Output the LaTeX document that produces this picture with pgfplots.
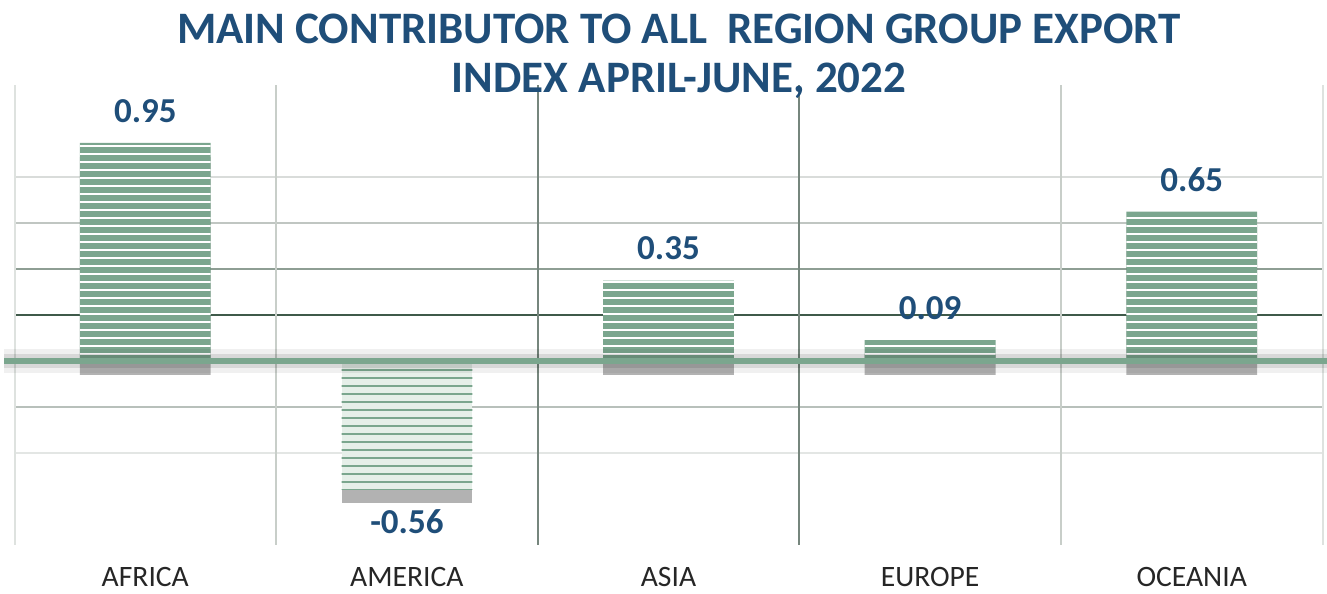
\documentclass[border=0pt]{standalone}
\usepackage{fontspec}
\setmainfont{Carlito}
\usepackage{pgfplots}
\pgfplotsset{compat=1.18}
\usetikzlibrary{patterns.meta,shadows}

\definecolor{barGreen}{HTML}{7BA68E}
\definecolor{barLight}{HTML}{E6EFE9}
\definecolor{titleBlue}{HTML}{1F4E79}
\definecolor{tickText}{HTML}{262626}
\definecolor{gA}{HTML}{D9DCDA}
\definecolor{gB}{HTML}{C0C6C2}
\definecolor{gC}{HTML}{8E9E94}
\definecolor{gD}{HTML}{3F5A4A}
\definecolor{gE}{HTML}{B8C0BB}
\definecolor{gF}{HTML}{E3E6E4}
\definecolor{vLight}{HTML}{DEE2DF}
\definecolor{vMid}{HTML}{C8CEC9}
\definecolor{vDark}{HTML}{76867D}

\begin{document}
\begin{tikzpicture}
\begin{axis}[
  scale only axis,
  width=654bp, height=229.5bp,
  xmin=-0.5, xmax=4.5, ymin=-0.8, ymax=1.2,
  axis line style={draw=none},
  tick style={draw=none},
  ytick=\empty,
  xtick={0,...,4},
  xticklabels={AFRICA,AMERICA,ASIA,EUROPE,OCEANIA},
  xticklabel style={font=\fontsize{14.8bp}{17bp}\selectfont, text=tickText, yshift=-8bp},
  clip=false,
  no markers,
]
% horizontal grid lines
\addplot[forget plot, gA, line width=1bp] coordinates {(-0.5,0.8) (4.5,0.8)};
\addplot[forget plot, gB, line width=1bp] coordinates {(-0.5,0.6) (4.5,0.6)};
\addplot[forget plot, gC, line width=1bp] coordinates {(-0.5,0.4) (4.5,0.4)};
\addplot[forget plot, gD, line width=1bp] coordinates {(-0.5,0.2) (4.5,0.2)};
\addplot[forget plot, gE, line width=1bp] coordinates {(-0.5,-0.2) (4.5,-0.2)};
\addplot[forget plot, gF, line width=1bp] coordinates {(-0.5,-0.4) (4.5,-0.4)};
% vertical separators
\addplot[forget plot, vLight, line width=1bp] coordinates {(-0.5,-0.8) (-0.5,1.2)};
\addplot[forget plot, vMid, line width=1bp] coordinates {(0.5,-0.8) (0.5,1.2)};
\addplot[forget plot, vDark, line width=1bp] coordinates {(1.5,-0.8) (1.5,1.2)};
\addplot[forget plot, vDark, line width=1bp] coordinates {(2.5,-0.8) (2.5,1.2)};
\addplot[forget plot, vMid, line width=1bp] coordinates {(3.5,-0.8) (3.5,1.2)};
\addplot[forget plot, vLight, line width=1bp] coordinates {(4.5,-0.8) (4.5,1.2)};
% positive bars
\addplot[ybar, bar shift=0pt, bar width=0.5, draw=none, fill=barGreen,
  drop shadow={shadow xshift=0bp, shadow yshift=-7bp, fill=black, opacity=0.3},
  postaction={pattern={Lines[angle=0,distance=4bp,line width=0.9bp]}, pattern color=white},
  nodes near coords, point meta=explicit symbolic,
  every node near coord/.append style={anchor=south, inner ysep=10bp,
    font=\fontsize{17.5bp}{20bp}\selectfont\bfseries, text=titleBlue}]
  coordinates {(0,0.95) [0.95] (2,0.35) [0.35] (3,0.09) [0.09] (4,0.65) [0.65]};
% negative bar
\addplot[ybar, bar shift=0pt, bar width=0.5, draw=none, fill=barLight,
  drop shadow={shadow xshift=0bp, shadow yshift=-7bp, fill=black, opacity=0.3},
  postaction={pattern={Lines[angle=0,distance=4bp,line width=1bp]}, pattern color=barGreen},
  nodes near coords, point meta=explicit symbolic,
  every node near coord/.append style={anchor=north, inner ysep=10bp,
    font=\fontsize{17.5bp}{20bp}\selectfont\bfseries, text=titleBlue}]
  coordinates {(1,-0.56) [-0.56]};
% zero line with soft shadow
\addplot[forget plot, black, opacity=0.06, line width=12bp] coordinates {(-0.54,0) (4.52,0)};
\addplot[forget plot, black, opacity=0.10, line width=7bp] coordinates {(-0.54,0) (4.52,0)};
\addplot[forget plot, barGreen, line width=3bp] coordinates {(-0.54,0) (4.52,0)};
\end{axis}
\node[font=\fontsize{22.5bp}{27bp}\selectfont\bfseries, text=titleBlue] at (332.25bp,258bp) {MAIN CONTRIBUTOR TO ALL \ REGION GROUP EXPORT};
\node[font=\fontsize{22.5bp}{27bp}\selectfont\bfseries, text=titleBlue] at (332.25bp,232bp) {INDEX APRIL-JUNE, 2022};
\pgfresetboundingbox
\path[use as bounding box] (-7.25bp,-24.75bp) rectangle (656.25bp,272.25bp);
\end{tikzpicture}
\end{document}
